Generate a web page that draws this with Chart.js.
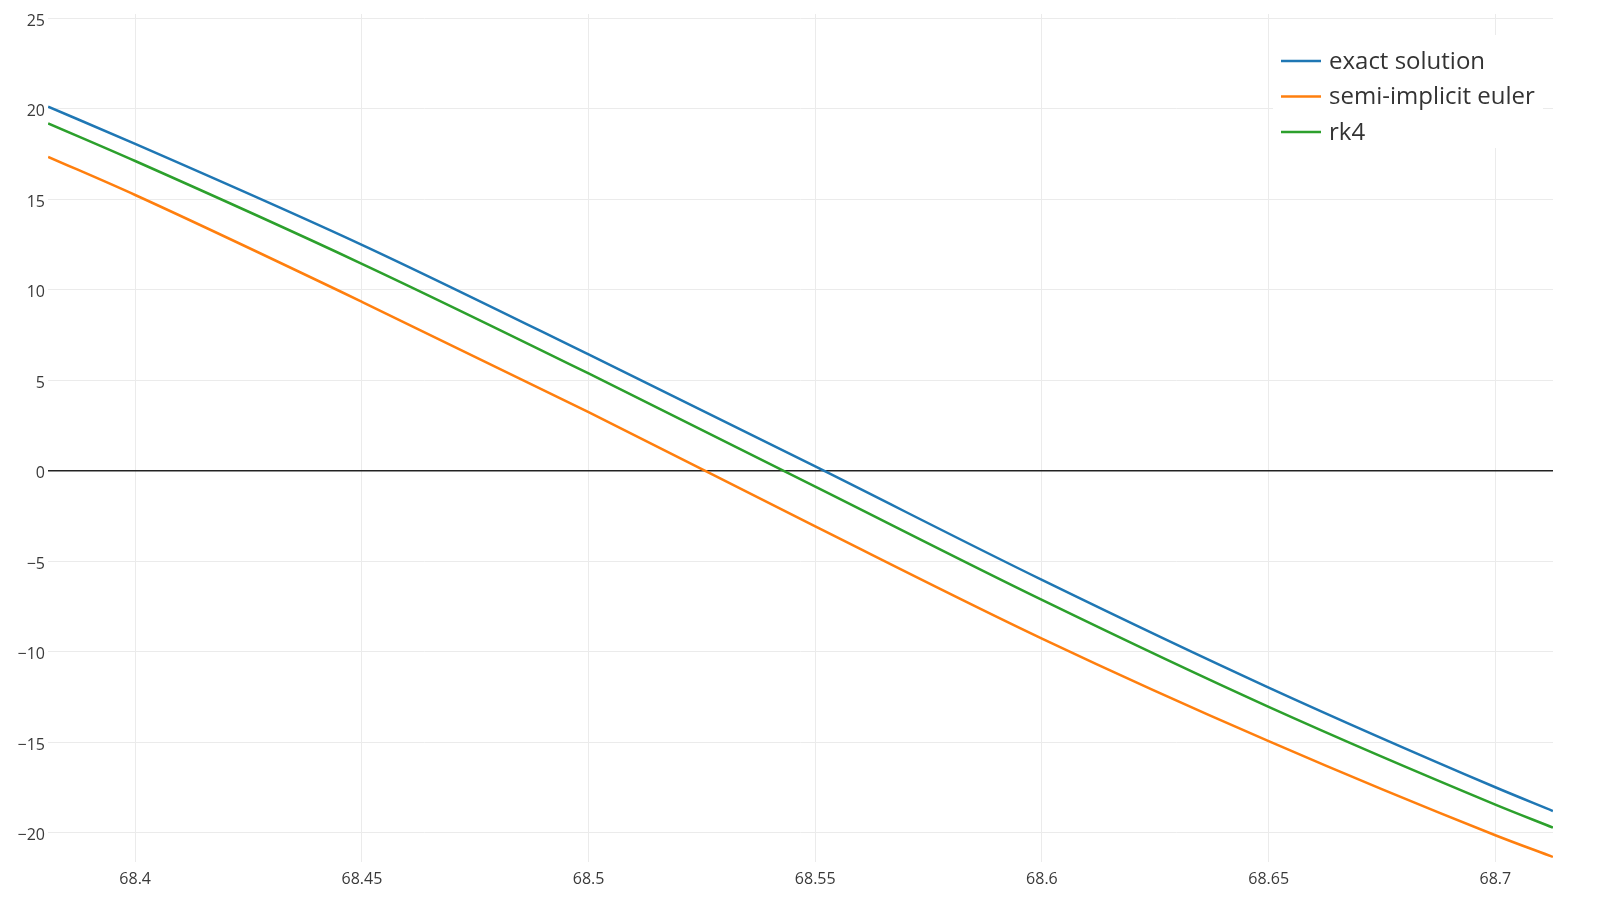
<!DOCTYPE html>
<html lang="en">

<head>
    <meta charset="UTF-8">
    <meta name="viewport" content="width=device-width, initial-scale=1.0">
    <title>exact solution vs semi-implicit euler vs rk4</title>
    <style>
        html, body { margin: 0; padding: 0; background: #fff; }
        #wrap { width: 1600px; height: 897px; }
    </style>
</head>

<body>
    <div id="wrap">
        <canvas id="myChart01" width="1600" height="897"></canvas>
    </div>
    <script src="https://cdn.jsdelivr.net/npm/chart.js"></script>
    <script>
        // data
        var xValues = [68.3808, 68.4, 68.45, 68.5, 68.55, 68.6, 68.65, 68.7, 68.7127];
        var exactValues = [20.12, 18.07, 12.49, 6.43, 0.24, -6.03, -11.98, -17.49, -18.8];
        var eulerValues = [17.35, 15.24, 9.34, 3.24, -3.07, -9.27, -14.94, -20.14, -21.34];
        var rk4Values = [19.2, 17.12, 11.44, 5.38, -0.88, -7.14, -13.05, -18.45, -19.72];
        var seriesNames = ['exact solution', 'semi-implicit euler', 'rk4'];
        var seriesColors = ['#1f77b4', '#ff7f0e', '#2ca02c'];
        var xTicks = [68.4, 68.45, 68.5, 68.55, 68.6, 68.65, 68.7];
        var xTickLabels = ['68.4', '68.45', '68.5', '68.55', '68.6', '68.65', '68.7'];
        var yTicks = [-20, -15, -10, -5, 0, 5, 10, 15, 20, 25];

        function toPoints(ys) {
            return xValues.map(function (x, i) { return { x: x, y: ys[i] }; });
        }

        // legend like plotly, top right inside the plot
        var boxLegend = {
            id: 'boxLegend',
            afterDraw: function (chart) {
                var ctx = chart.ctx;
                ctx.save();
                ctx.fillStyle = '#fff';
                ctx.fillRect(1273, 35, 270, 113);
                ctx.font = '24px "Open Sans"';
                ctx.textBaseline = 'middle';
                chart.data.datasets.forEach(function (ds, i) {
                    var y = 61 + i * 35.5;
                    ctx.strokeStyle = ds.borderColor;
                    ctx.lineWidth = 2.5;
                    ctx.beginPath();
                    ctx.moveTo(1281, y);
                    ctx.lineTo(1321, y);
                    ctx.stroke();
                    ctx.fillStyle = '#333';
                    ctx.fillText(ds.label, 1329, y + 1);
                });
                ctx.restore();
            }
        };

        var ctx01 = document.getElementById('myChart01');
        var chart01 = new Chart(ctx01, {
            type: 'line',
            data: {
                datasets: [exactValues, eulerValues, rk4Values].map(function (ys, i) {
                    return {
                        label: seriesNames[i],
                        data: toPoints(ys),
                        borderColor: seriesColors[i],
                        backgroundColor: seriesColors[i],
                        borderWidth: 2.5,
                        pointRadius: 0,
                        cubicInterpolationMode: 'monotone',
                        fill: false
                    };
                })
            },
            plugins: [boxLegend],
            options: {
                responsive: false,
                animation: false,
                layout: { padding: { top: 14, right: 47, left: 0, bottom: 0 } },
                plugins: {
                    legend: { display: false },
                    tooltip: { enabled: false }
                },
                scales: {
                    x: {
                        type: 'linear',
                        min: 68.38077,
                        max: 68.71272,
                        border: { display: false },
                        grid: { color: '#ebebeb', lineWidth: 1, drawTicks: false },
                        afterBuildTicks: function (axis) {
                            axis.ticks = xTicks.map(function (v) { return { value: v }; });
                        },
                        afterFit: function (scale) { scale.height = 35; },
                        ticks: {
                            padding: 8,
                            maxRotation: 0,
                            color: '#3a3a3a',
                            font: { family: '"Open Sans"', size: 16 },
                            callback: function (v) {
                                var k = xTicks.indexOf(v);
                                return k >= 0 ? xTickLabels[k] : '';
                            }
                        }
                    },
                    y: {
                        type: 'linear',
                        min: -21.62,
                        max: 25.243,
                        border: { display: false },
                        grid: {
                            drawTicks: false,
                            color: function (c) { return c.tick && c.tick.value === 0 ? '#222' : '#ebebeb'; },
                            lineWidth: function (c) { return c.tick && c.tick.value === 0 ? 1.5 : 1; }
                        },
                        afterBuildTicks: function (axis) {
                            axis.ticks = yTicks.map(function (v) { return { value: v }; });
                        },
                        afterFit: function (scale) { scale.width = 48; },
                        ticks: {
                            padding: 3,
                            labelOffset: 3,
                            color: '#3a3a3a',
                            font: { family: '"Open Sans"', size: 16 },
                            callback: function (v) {
                                // plotly uses a real minus sign
                                return v < 0 ? '\u2212' + Math.abs(v) : String(v);
                            }
                        }
                    }
                }
            }
        });
    </script>
</body>

</html>
